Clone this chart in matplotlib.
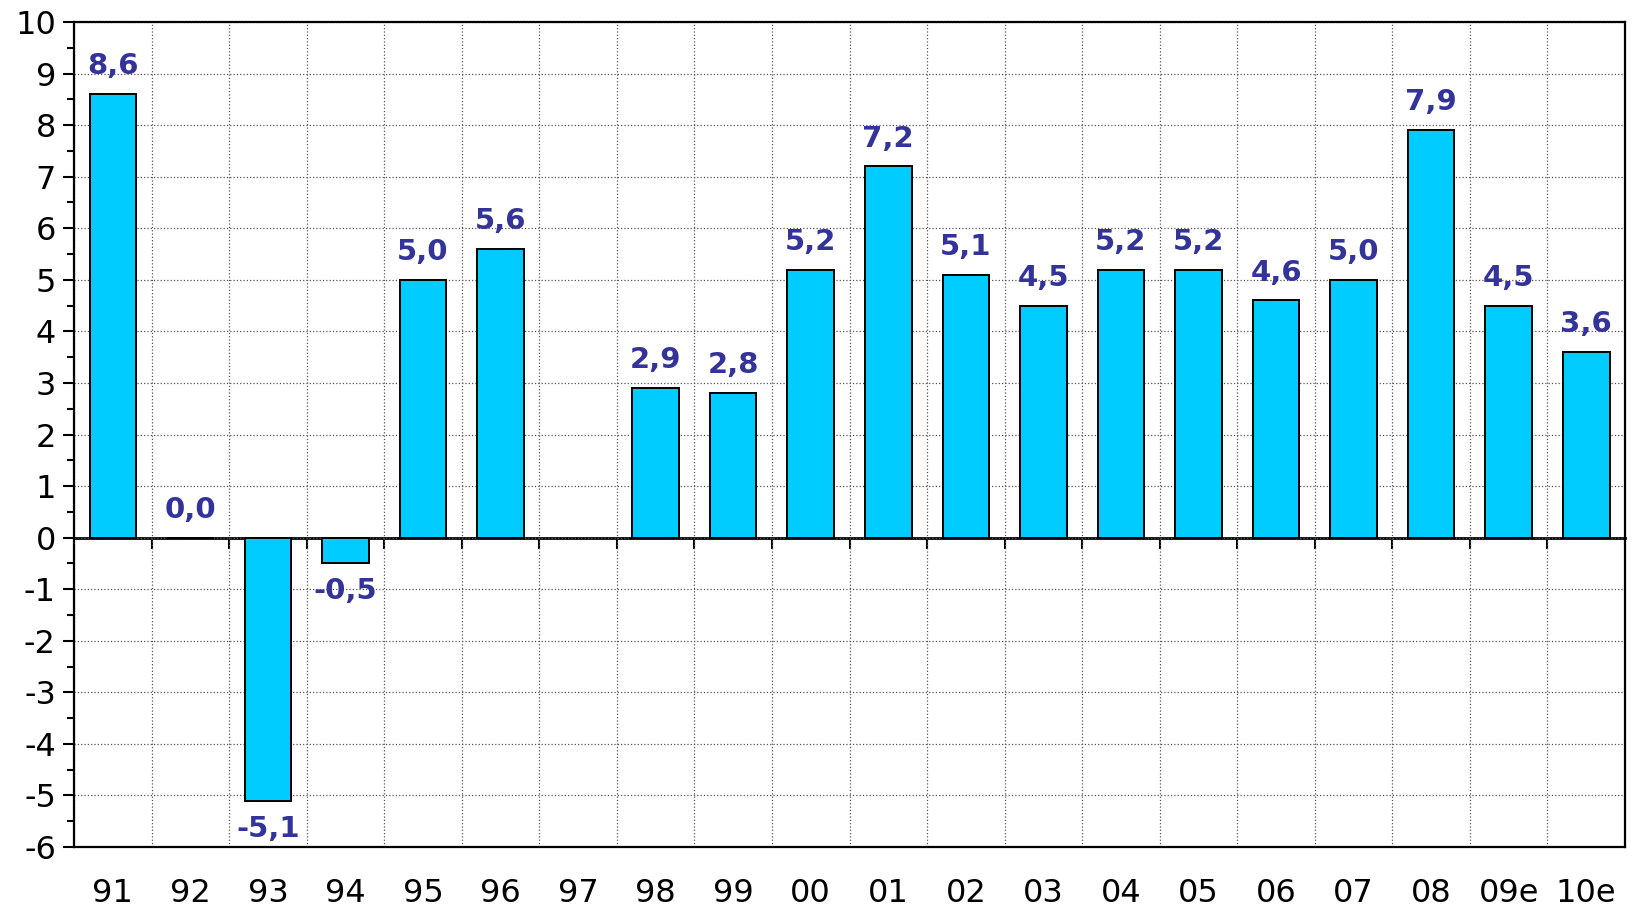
import numpy as np
import matplotlib
matplotlib.use("Agg")
import matplotlib.pyplot as plt
from matplotlib.ticker import MultipleLocator, FixedLocator

years = ["91", "92", "93", "94", "95", "96", "97", "98", "99", "00",
         "01", "02", "03", "04", "05", "06", "07", "08", "09e", "10e"]
growth = [8.6, 0.0, -5.1, -0.5, 5.0, 5.6, np.nan, 2.9, 2.8, 5.2,
          7.2, 5.1, 4.5, 5.2, 5.2, 4.6, 5.0, 7.9, 4.5, 3.6]

plt.rcParams["font.family"] = ["DejaVu Sans"]
plt.rcParams["axes.unicode_minus"] = False

fig = plt.figure(figsize=(16.34, 9.10), dpi=100)
ax = fig.add_axes([0.0453, 0.0692, 0.9492, 0.9066])

x = np.arange(len(years))
ax.bar(x, growth, width=0.6, color="#00CCFF", edgecolor="black", linewidth=1.4, zorder=3)

for xi, v in zip(x, growth):
    if np.isnan(v):
        continue
    txt = f"{v:.1f}".replace(".", ",")
    if v >= 0:
        ax.annotate(txt, (xi, v), xytext=(0, 10), textcoords="offset points",
                    ha="center", va="bottom", fontsize=21, fontweight="bold",
                    color="#333399", zorder=4)
    else:
        ax.annotate(txt, (xi, v), xytext=(0, -10), textcoords="offset points",
                    ha="center", va="top", fontsize=21, fontweight="bold",
                    color="#333399", zorder=4)

ymin, ymax = -6, 10
ax.set_ylim(ymin, ymax)
ax.set_xlim(-0.5, len(years) - 0.5)

# y axis
ax.yaxis.set_major_locator(MultipleLocator(1))
ax.yaxis.set_minor_locator(MultipleLocator(0.5))
ax.tick_params(axis="y", which="major", direction="out", length=8, width=1.5,
               labelsize=23, pad=5)
ax.tick_params(axis="y", which="minor", direction="out", length=5, width=1.5)

# x axis: labels at centres, gridlines at category boundaries
bounds = np.arange(len(years) + 1) - 0.5
ax.set_xticks(x)
ax.set_xticklabels(years)
ax.xaxis.set_minor_locator(FixedLocator(bounds))
ax.tick_params(axis="x", which="major", length=0, labelsize=23, pad=22)
ax.tick_params(axis="x", which="minor", length=0)

ax.set_axisbelow(True)
ax.grid(True, which="major", axis="y", linestyle=":", color="#555555", linewidth=0.9)
ax.grid(True, which="minor", axis="x", linestyle=":", color="#555555", linewidth=0.9)

for sp in ax.spines.values():
    sp.set_linewidth(1.6)
    sp.set_color("black")

# zero line with boundary ticks
zero_pos = (0 - ymin) / (ymax - ymin)
sec = ax.secondary_xaxis(zero_pos)
sec.set_xticks(bounds[1:-1])
sec.tick_params(direction="out", length=8, width=1.5, labelbottom=False, labeltop=False)
sec.spines["bottom"].set_linewidth(2.0)

fig.savefig("out.png", dpi=100, facecolor="white")
